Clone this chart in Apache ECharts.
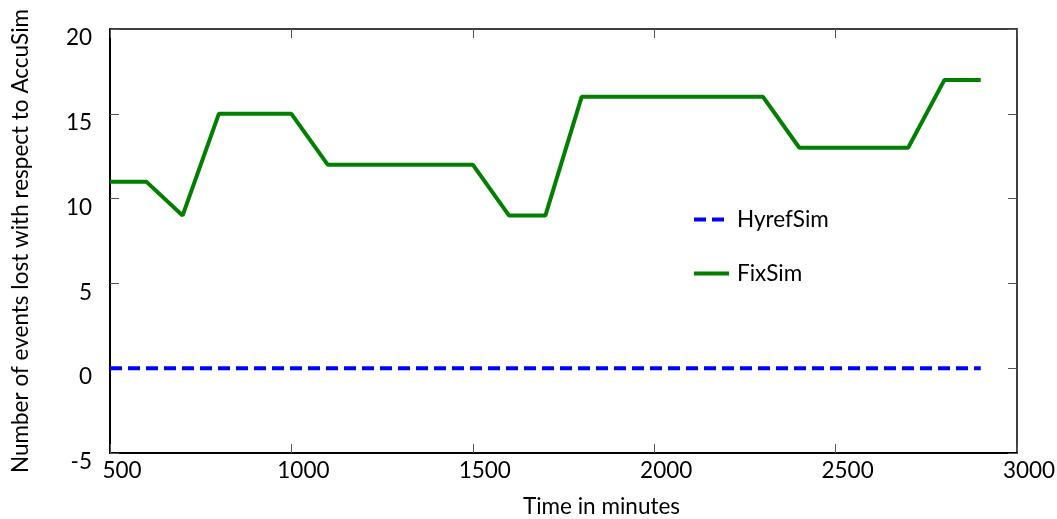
<!DOCTYPE html>
<html>
<head>
<meta charset="utf-8">
<script src="https://cdn.jsdelivr.net/npm/echarts@6/dist/echarts.min.js"></script>
<style>
  html, body { margin: 0; padding: 0; background: #fff; }
  #chart { width: 1057px; height: 519px; }
</style>
</head>
<body>
<div id="chart"></div>
<script>
// time in minutes, sampled every 100
var minutes = [500, 600, 700, 800, 900, 1000, 1100, 1200, 1300, 1400, 1500, 1600, 1700,
               1800, 1900, 2000, 2100, 2200, 2300, 2400, 2500, 2600, 2700, 2800, 2900];
var hyrefSim = [0, 0, 0, 0, 0, 0, 0, 0, 0, 0, 0, 0, 0, 0, 0, 0, 0, 0, 0, 0, 0, 0, 0, 0, 0];
var fixSim = [11, 11, 9, 15, 15, 15, 12, 12, 12, 12, 12, 9, 9,
              16, 16, 16, 16, 16, 16, 13, 13, 13, 13, 17, 17];

function pairs(xs, ys) {
  return xs.map(function (x, i) { return [x, ys[i]]; });
}

var font = 'Lato';
var fs = 22.5;

var chart = echarts.init(document.getElementById('chart'));

var option = {
  animation: false,
  textStyle: { fontFamily: font, color: '#000' },
  grid: { left: 110, right: 40, top: 29, bottom: 66, containLabel: false, outerBoundsMode: 'none' },
  legend: {
    orient: 'vertical',
    left: 687,
    top: 203,
    itemWidth: 35,
    itemHeight: 12,
    itemGap: 31,
    itemStyle: { opacity: 0 },
    lineStyle: { width: 4 },
    textStyle: { fontFamily: font, fontSize: fs, color: '#000', padding: [0, 0, 0, 3] },
    data: ['HyrefSim', 'FixSim']
  },
  xAxis: [{
    type: 'value',
    min: 500, max: 3000, interval: 500,
    position: 'bottom',
    name: 'Time in minutes',
    nameLocation: 'middle',
    nameGap: 42,
    nameTextStyle: { fontFamily: font, fontSize: fs, color: '#000', padding: [0, 0, 0, 76] },
    axisLine: { show: true, onZero: false, lineStyle: { color: '#000', width: 2 } },
    axisTick: { show: true, inside: true, length: 9, lineStyle: { color: '#555', width: 1 } },
    axisLabel: { fontFamily: font, fontSize: fs, color: '#000', margin: 6,
                 padding: [0, 0, 0, 24], formatter: function (v) { return String(v); } },
    splitLine: { show: false }
  }, {
    type: 'value',
    min: 500, max: 3000, interval: 500,
    position: 'top',
    axisLine: { show: true, onZero: false, lineStyle: { color: '#000', width: 1.5 } },
    axisTick: { show: true, inside: true, length: 9, lineStyle: { color: '#555', width: 1 } },
    axisLabel: { show: false },
    splitLine: { show: false }
  }],
  yAxis: [{
    type: 'value',
    min: -5, max: 20, interval: 5,
    position: 'left',
    name: 'Number of events lost with respect to AccuSim',
    nameLocation: 'middle',
    nameGap: 78,
    nameTextStyle: { fontFamily: font, fontSize: fs, color: '#000' },
    axisLine: { show: true, onZero: false, lineStyle: { color: '#000', width: 2 } },
    axisTick: { show: true, inside: true, length: 9, lineStyle: { color: '#555', width: 1 } },
    axisLabel: { fontFamily: font, fontSize: fs, color: '#000', margin: 18,
                 verticalAlign: 'top', lineHeight: 18 },
    splitLine: { show: false }
  }, {
    type: 'value',
    min: -5, max: 20, interval: 5,
    position: 'right',
    axisLine: { show: true, onZero: false, lineStyle: { color: '#000', width: 1.5 } },
    axisTick: { show: true, inside: true, length: 9, lineStyle: { color: '#555', width: 1 } },
    axisLabel: { show: false },
    splitLine: { show: false }
  }],
  series: [{
    name: 'HyrefSim',
    type: 'line',
    symbol: 'none',
    data: pairs(minutes, hyrefSim),
    itemStyle: { color: '#0000ff' },
    lineStyle: { color: '#0000ff', width: 4, type: [12, 6] }
  }, {
    name: 'FixSim',
    type: 'line',
    symbol: 'none',
    data: pairs(minutes, fixSim),
    itemStyle: { color: '#007f00' },
    lineStyle: { color: '#007f00', width: 4 }
  }]
};

chart.setOption(option);
</script>
</body>
</html>
